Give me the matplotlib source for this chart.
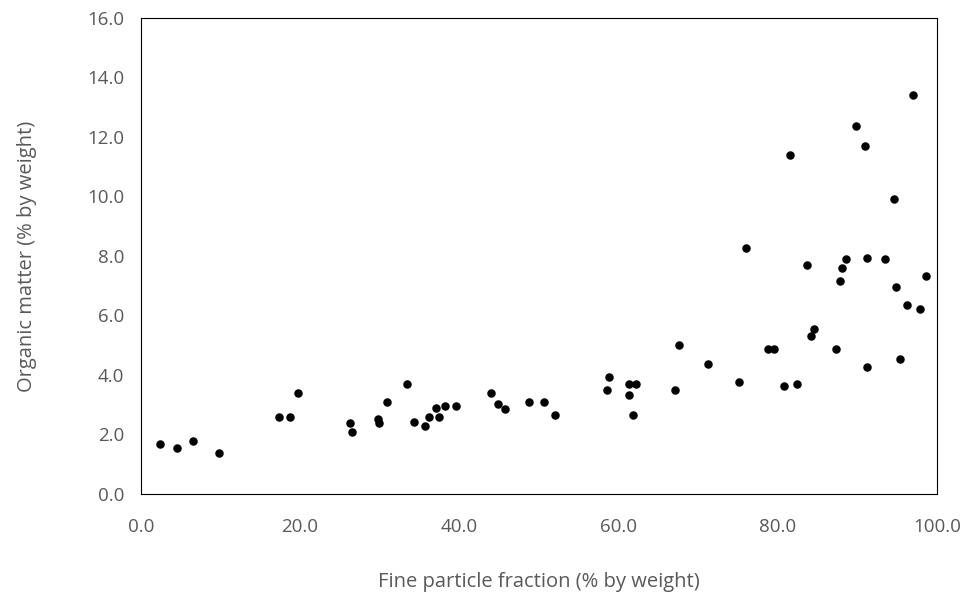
import matplotlib
matplotlib.use("Agg")
import matplotlib.pyplot as plt

plt.rcParams['font.family'] = ['Open Sans', 'DejaVu Sans']

# Fine particle fraction (% by weight)
fine = [2.4, 4.6, 6.5, 9.8, 17.3, 18.8, 19.8, 26.3, 26.5, 29.8, 29.9, 30.9, 33.4,
        34.3, 35.7, 36.2, 37.1, 37.4, 38.2, 39.6, 44.0, 44.8, 45.8, 48.7, 50.6,
        52.0, 58.5, 58.8, 61.3, 61.3, 62.2, 61.8, 67.1, 67.6, 71.2, 75.1, 76.0,
        78.8, 79.5, 80.8, 81.5, 82.4, 83.7, 84.2, 84.5, 87.3, 87.8, 88.1, 88.6,
        89.8, 91.0, 91.2, 91.2, 93.5, 94.6, 94.8, 95.4, 96.2, 97.0, 97.9, 98.6]
# Organic matter (% by weight)
organic = [1.68, 1.55, 1.78, 1.38, 2.59, 2.59, 3.39, 2.39, 2.08, 2.52, 2.39, 3.09, 3.70,
           2.42, 2.29, 2.59, 2.89, 2.59, 2.96, 2.96, 3.39, 3.03, 2.86, 3.09, 3.09,
           2.66, 3.50, 3.93, 3.33, 3.70, 3.70, 2.66, 3.50, 5.01, 4.37, 3.76, 8.27,
           4.87, 4.87, 3.63, 11.39, 3.70, 7.70, 5.31, 5.55, 4.87, 7.16, 7.60, 7.90,
           12.37, 11.70, 7.93, 4.27, 7.90, 9.92, 6.96, 4.54, 6.35, 13.41, 6.22, 7.33]

fig = plt.figure(figsize=(9.71, 5.98), dpi=100)
ax = fig.add_axes([0.145, 0.174, 0.82, 0.796])
ax.scatter(fine, organic, s=26, color='black', zorder=3)

ax.set_xlim(0, 100)
ax.set_ylim(0, 16)
ax.set_xticks(range(0, 101, 20))
ax.set_yticks(range(0, 17, 2))
ax.set_xticklabels([f"{v:.1f}" for v in range(0, 101, 20)])
ax.set_yticklabels([f"{v:.1f}" for v in range(0, 17, 2)])
ax.tick_params(length=0, labelsize=13.5, colors='#595959')
ax.tick_params(axis='x', pad=17)
ax.tick_params(axis='y', pad=12)
for s in ax.spines.values():
    s.set_color('black')
    s.set_linewidth(0.8)

ax.set_xlabel("Fine particle fraction (% by weight)", fontsize=14.5, color='#595959', labelpad=26)
ax.set_ylabel("Organic matter (% by weight)", fontsize=14.5, color='#595959', labelpad=36)

fig.savefig("out.png", dpi=100)
